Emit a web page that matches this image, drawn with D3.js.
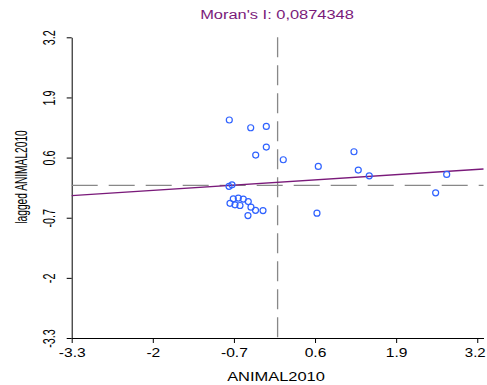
<!DOCTYPE html>
<html>
<head>
<meta charset="utf-8">
<script src="https://cdn.jsdelivr.net/npm/d3@7"></script>
<style>
  body { margin: 0; background: #fff; }
  text { font-family: "Liberation Sans", Arial, sans-serif; }
</style>
</head>
<body>
<svg id="chart"></svg>
<script>
const width = 487, height = 385;

// Moran scatterplot data: standardized value vs spatial lag
const xValues = [-0.774, -0.431, -0.181, -0.181, -0.351, 0.091, 0.652, 1.224, 1.293, 1.469,
  2.710, 2.533, 0.631, -0.731, -0.779, -0.710, -0.630, -0.550, -0.470, -0.763,
  -0.683, -0.603, -0.427, -0.354, -0.234, -0.475];
const yValues = [1.412, 1.245, 1.274, 0.828, 0.655, 0.553, 0.408, 0.726, 0.330, 0.206,
  0.235, -0.161, -0.601, 0.012, -0.021, -0.291, -0.276, -0.298, -0.350, -0.389,
  -0.421, -0.436, -0.471, -0.540, -0.545, -0.653];
const ticks = [-3.3, -2, -0.7, 0.6, 1.9, 3.2];
const moranI = 0.0874348;
const intercept = 0.065;

const points = xValues.map((x, i) => ({ x, y: yValues[i] }));

// the original picture is stretched horizontally, so the text is too
const stretch = 1.37;

const svg = d3.select("#chart").attr("width", width).attr("height", height);

const x = d3.scaleLinear().domain([-3.3, 3.3]).range([71.7, 483.5]);
const y = d3.scaleLinear().domain([-3.3, 3.2]).range([338, 37.3]);

const fmt = d => String(d);

// Axes
const xAxis = svg.append("g")
  .attr("transform", `translate(0,${y(-3.3)})`)
  .call(d3.axisBottom(x).tickValues(ticks).tickFormat(fmt).tickSize(5).tickSizeOuter(0));
xAxis.selectAll("line, path").attr("stroke", "#000");
xAxis.selectAll("text")
  .attr("font-size", 12)
  .attr("fill", "#000")
  .attr("y", 10)
  .attr("dy", "0.71em")
  .attr("transform", (d, i) => i === ticks.length - 1
    ? "translate(-2.5,0) scale(1.25,1)"
    : "scale(1.3,1)");

const yAxis = svg.append("g")
  .attr("transform", `translate(${x(-3.3)},0)`)
  .call(d3.axisLeft(y).tickValues(ticks).tickFormat(fmt).tickSize(5).tickSizeOuter(0));
yAxis.selectAll("line, path").attr("stroke", "#000");
yAxis.selectAll("text")
  .attr("font-size", 12)
  .attr("fill", "#000")
  .attr("text-anchor", "middle")
  .attr("x", null)
  .attr("dy", "0.35em")
  .attr("transform", "translate(-22,0) rotate(-90) scale(0.9,1.3)");

// Mean lines
svg.append("line")
  .attr("x1", x(0)).attr("x2", x(0))
  .attr("y1", y(3.2)).attr("y2", y(-3.3))
  .attr("stroke", "#888").attr("stroke-width", 1.3)
  .attr("stroke-dasharray", "20,8");

svg.append("line")
  .attr("x1", x(-3.3)).attr("x2", x(3.3))
  .attr("y1", y(0)).attr("y2", y(0))
  .attr("stroke", "#888").attr("stroke-width", 1.3)
  .attr("stroke-dasharray", "26,11");

// Regression line
svg.append("line")
  .attr("x1", x(-3.3)).attr("x2", x(3.3))
  .attr("y1", y(intercept + moranI * -3.3))
  .attr("y2", y(intercept + moranI * 3.3))
  .attr("stroke", "#7a1a7a").attr("stroke-width", 1.3);

// Points
svg.append("g")
  .selectAll("circle")
  .data(points)
  .enter()
  .append("circle")
  .attr("cx", d => x(d.x))
  .attr("cy", d => y(d.y))
  .attr("r", 3)
  .attr("fill", "none")
  .attr("stroke", "#2f62ff")
  .attr("stroke-width", 1.2);

// Title and labels
svg.append("text")
  .attr("transform", `translate(277,19) scale(${stretch},1)`)
  .attr("text-anchor", "middle")
  .attr("font-size", 12)
  .attr("fill", "#7a1a7a")
  .text(`Moran's I: ${String(moranI).replace(".", ",")}`);

svg.append("text")
  .attr("transform", `translate(276,381) scale(${stretch},1)`)
  .attr("text-anchor", "middle")
  .attr("font-size", 12)
  .attr("fill", "#000")
  .text("ANIMAL2010");

svg.append("text")
  .attr("transform", "translate(22,177) rotate(-90) scale(0.85,1.3)")
  .attr("text-anchor", "middle")
  .attr("font-size", 12)
  .attr("fill", "#000")
  .attr("dy", "0.35em")
  .text("lagged ANIMAL2010");
</script>
</body>
</html>
